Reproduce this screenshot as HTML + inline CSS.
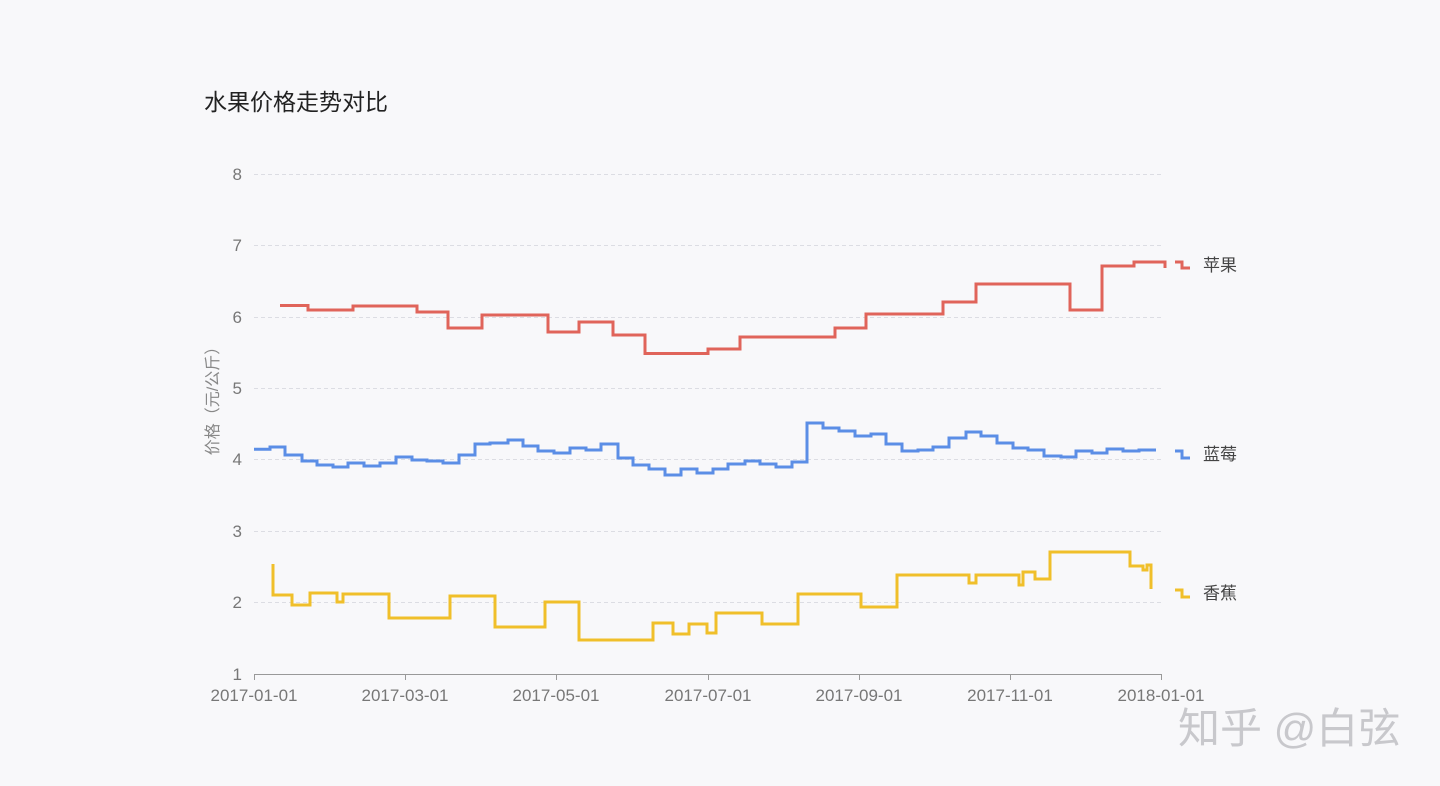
<!DOCTYPE html>
<html><head><meta charset="utf-8"><style>
html,body{margin:0;padding:0;background:#f8f8fa;}
svg{display:block;}
text{font-family:"Liberation Sans","Noto Sans CJK SC",sans-serif;}
</style></head><body>
<svg width="1440" height="786" viewBox="0 0 1440 786" xmlns="http://www.w3.org/2000/svg">
<rect width="1440" height="786" fill="#f8f8fa"/>
<text x="204" y="110" font-size="23" fill="#222">水果价格走势对比</text>
<g stroke="#dcdde3" stroke-width="1" stroke-dasharray="4,3">
<line x1="254" y1="174.5" x2="1162" y2="174.5"/>
<line x1="254" y1="245.5" x2="1162" y2="245.5"/>
<line x1="254" y1="317.5" x2="1162" y2="317.5"/>
<line x1="254" y1="388.5" x2="1162" y2="388.5"/>
<line x1="254" y1="459.5" x2="1162" y2="459.5"/>
<line x1="254" y1="531.5" x2="1162" y2="531.5"/>
<line x1="254" y1="602.5" x2="1162" y2="602.5"/>
</g>
<g stroke="#999" stroke-width="1" fill="none">
<line x1="254" y1="674.5" x2="1162" y2="674.5"/>
<line x1="254.5" y1="674" x2="254.5" y2="680"/>
<line x1="405.5" y1="674" x2="405.5" y2="680"/>
<line x1="556.5" y1="674" x2="556.5" y2="680"/>
<line x1="708.5" y1="674" x2="708.5" y2="680"/>
<line x1="859.5" y1="674" x2="859.5" y2="680"/>
<line x1="1010.5" y1="674" x2="1010.5" y2="680"/>
<line x1="1161.5" y1="674" x2="1161.5" y2="680"/>
</g>
<g font-size="17" fill="#777" text-anchor="end">
<text x="242" y="180">8</text><text x="242" y="251">7</text><text x="242" y="323">6</text>
<text x="242" y="394">5</text><text x="242" y="465">4</text><text x="242" y="537">3</text>
<text x="242" y="608">2</text><text x="242" y="680">1</text>
</g>
<g font-size="17" fill="#777" text-anchor="middle">
<text x="254" y="701">2017-01-01</text><text x="405" y="701">2017-03-01</text>
<text x="556" y="701">2017-05-01</text><text x="708" y="701">2017-07-01</text>
<text x="859" y="701">2017-09-01</text><text x="1010" y="701">2017-11-01</text>
<text x="1161" y="701">2018-01-01</text>
</g>
<text transform="translate(218,397) rotate(-90)" font-size="16" fill="#888" text-anchor="middle">价格（元/公斤）</text>
<g fill="none" stroke-width="3" stroke-linejoin="miter">
<path stroke="#e0645a" d="M280,305.5H308V310H353V306H417V312H448V328H482V315H548V332H579V322H613V335H645V353.5H708V349H740V337H835V328H866V314H943V302H976V284H1070V310H1102V266H1134V262H1165V268"/>
<path stroke="#e0645a" d="M1175,262H1182V268H1190"/>
<path stroke="#5b8ee6" d="M254,449.3H270V447H285V455H302V461H317V465H333V467H348V463H364V466H380V463H396V457H412V460H427V461H443V463H459V455H475V444H490V443H508V440H523V446H538V451H554V453H570V448H586V450H601V444H618V458H633V465H649V469H665V475H681V469H697V473H713V469H728V464H745V461H760V464H776V467H792V462H807V423H823V428H839V431H855V436H871V434H886V444H902V451H918V450H933V447H949V438H966V432H981V436H997V443H1013V448H1028V450H1044V456H1061V457H1076V451H1092V453H1107V449H1123V451H1139V450H1156"/>
<path stroke="#5b8ee6" d="M1175,451H1182V458H1190"/>
<path stroke="#f0bf2a" d="M273,564V595H292V605H310V593H337V602H343V594H389V618H450V596H495V627H545V602H579V640H653V623H673V634H689V624H707V633H716V613H762V624H798V594H861V607H897V575H969V583H976V575H1019V585H1023V572H1035V579H1050V552H1130V566H1143V570H1147V565H1151V589"/>
<path stroke="#f0bf2a" d="M1175,590H1182V597H1190"/>
</g>
<g font-size="17" fill="#444">
<text x="1203" y="271">苹果</text>
<text x="1203" y="460">蓝莓</text>
<text x="1203" y="599">香蕉</text>
</g>
<text x="1178" y="743" font-size="42" fill="#c8c8cc" font-family="'Noto Sans CJK SC',sans-serif">知乎 @白弦</text>
</svg>
</body></html>
